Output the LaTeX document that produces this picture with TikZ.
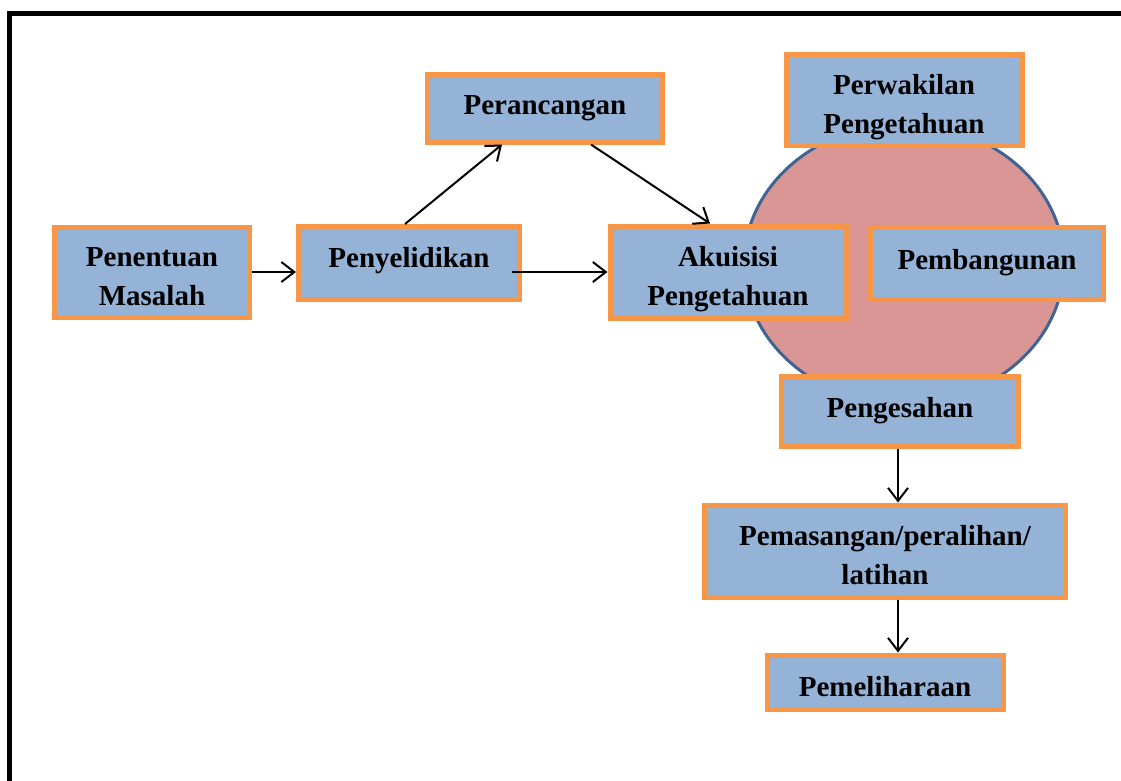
\documentclass[tikz,border=0pt]{standalone}
\usepackage{fontspec}
\setmainfont{Liberation Serif}
\usetikzlibrary{arrows.meta,shapes.geometric}
\definecolor{boxfill}{HTML}{95B3D7}
\definecolor{boxline}{HTML}{F79646}
\definecolor{ringfill}{HTML}{D99694}
\definecolor{ringline}{HTML}{3E6494}
\tikzset{
  tahap/.style={rectangle, fill=boxfill, draw=boxline, line width=5pt,
    align=center, font=\fontsize{29}{39}\selectfont\bfseries, inner sep=0pt},
  duabaris/.style={text height=73pt, text depth=6pt},
  aliran/.style={->, line width=2pt}
}
\begin{document}
\begin{tikzpicture}[x=1pt, y=-1pt, >={Straight Barb[length=13pt,width=20pt]}]
                \useasboundingbox (0,0) rectangle (1121,780);
                \draw[line width=5pt] (9,800) |- (1140,13);

                % the cycle behind the knowledge steps
                \node[ellipse, fill=ringfill, draw=ringline, line width=3pt,
                      minimum width=320pt, minimum height=280pt] (kitar) at (904,264) {};

                \node[tahap, duabaris, minimum width=195pt, minimum height=90pt] (penentuan) at (152,272) {Penentuan\\Masalah};
                \node[tahap, text depth=12pt, minimum width=221pt, minimum height=73pt] (penyelidikan) at (409,263) {Penyelidikan};
                \node[tahap, minimum width=235pt, minimum height=68pt] (perancangan) at (545,108) {Perancangan};
                \node[tahap, duabaris, minimum width=236pt, minimum height=91pt] (perwakilan) at (904,100) {Perwakilan\\Pengetahuan};
                \node[tahap, duabaris, minimum width=236pt, minimum height=92pt] (akuisisi) at (728,272) {Akuisisi\\Pengetahuan};
                \node[tahap, minimum width=233pt, minimum height=72pt] (pembangunan) at (987,263) {Pembangunan};
                \node[tahap, minimum width=237pt, minimum height=70pt] (pengesahan) at (900,411) {Pengesahan};
                \node[tahap, duabaris, minimum width=361pt, minimum height=92pt] (pemasangan) at (885,551) {Pemasangan/peralihan/\\latihan};
                \node[tahap, text height=30pt, minimum width=236pt, minimum height=54pt] (pemeliharaan) at (885,682) {Pemeliharaan};

                % arrows between the steps
                \draw[aliran] (penentuan.east) -- (penyelidikan.west |- penentuan.east);
                \draw[aliran] ([xshift=-4pt]penyelidikan.north) -- ([xshift=-43pt]perancangan.south);
                \draw[aliran] ([xshift=46pt]perancangan.south) -- ([xshift=-18pt]akuisisi.north);
                \draw[aliran] ([xshift=-10pt]penyelidikan.east |- penentuan.east) -- (akuisisi.west |- penentuan.east);
                \draw[aliran] ([xshift=-2pt]pengesahan.south) -- ([xshift=-2pt]pengesahan.south |- pemasangan.north);
                \draw[aliran] ([xshift=-2pt]pengesahan.south |- pemasangan.south) -- ([xshift=-2pt]pengesahan.south |- pemeliharaan.north);
            \end{tikzpicture}
\end{document}
